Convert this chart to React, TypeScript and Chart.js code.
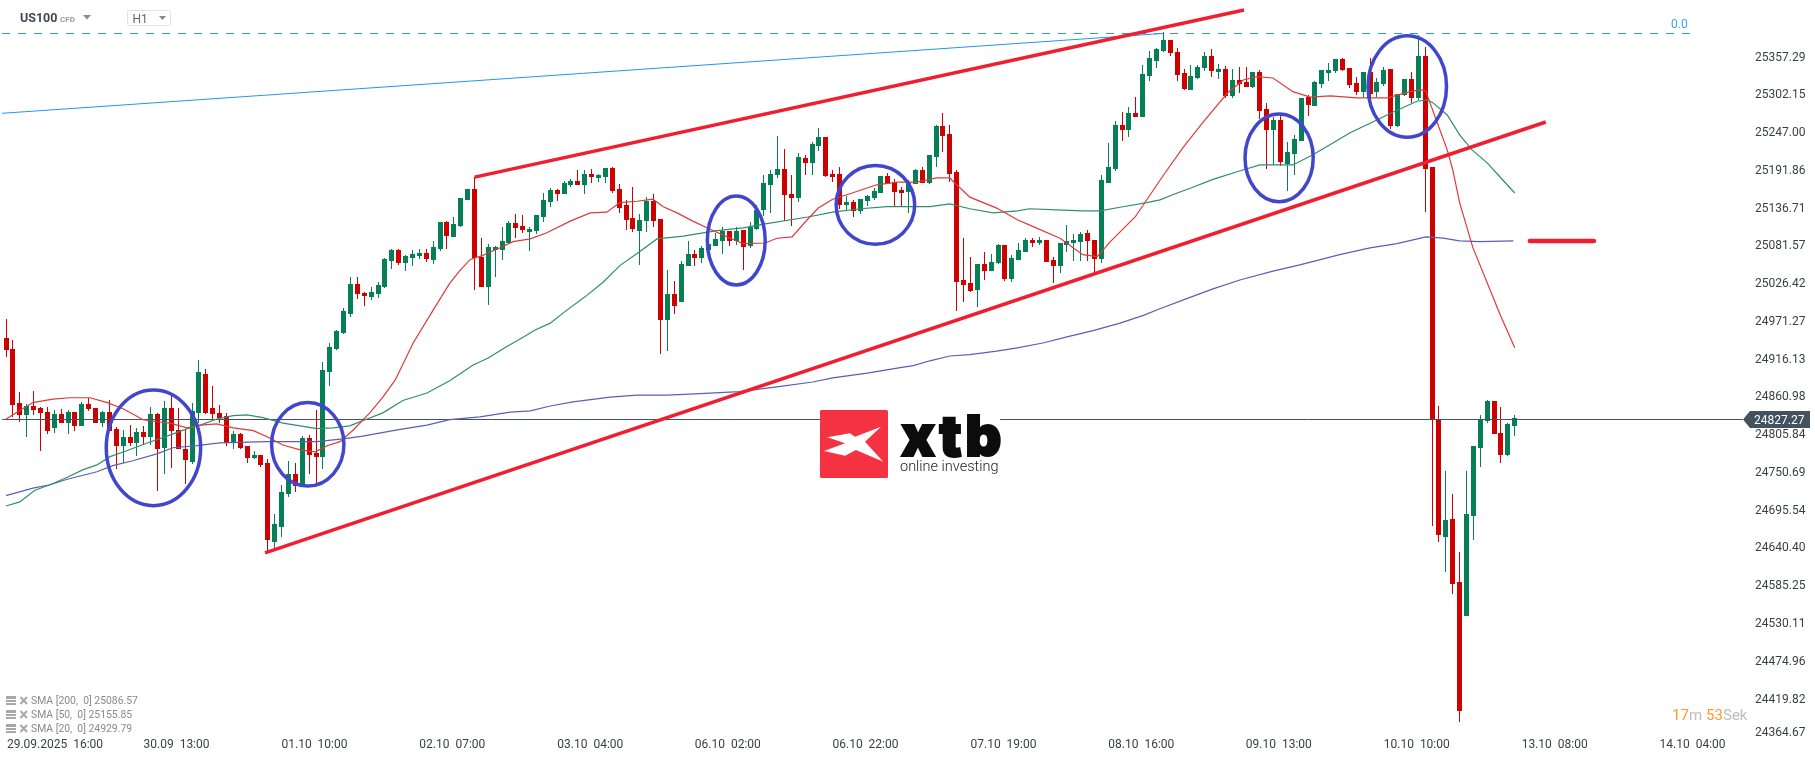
import React, { useEffect, useRef } from 'react';
import { Chart, registerables } from 'chart.js';

Chart.register(...registerables);

// US100 H1 candles, oldest first
const opens = [
  24947,24930,24852,24834,24847,24844,24838,24815,24836,24822,
  24838,24818,24850,24844,24822,24838,24814,24789,24802,24793,
  24809,24802,24836,24786,24844,24812,24784,24765,24837,24894,
  24844,24837,24833,24793,24806,24789,24771,24776,24764,24649,
  24671,24719,24748,24730,24800,24778,24773,24897,24930,24954,
  24982,25025,25012,25006,25011,25021,25059,25075,25056,25063,
  25066,25071,25060,25076,25116,25094,25110,25148,25164,25065,
  25021,25075,25075,25085,25114,25110,25101,25103,25123,25145,
  25162,25157,25170,25176,25170,25186,25180,25182,25195,25164,
  25141,25122,25103,25117,25146,25120,24973,25011,24999,25052,
  25069,25063,25075,25081,25088,25103,25088,25104,25081,25106,
  25133,25170,25184,25193,25157,25151,25209,25202,25227,25240,
  25186,25186,25141,25145,25132,25146,25151,25158,25183,25174,
  25162,25160,25171,25192,25173,25211,25256,25244,25189,25031,
  25027,25016,25054,25044,25056,25082,25033,25060,25072,25090,
  25085,25090,25060,25052,25082,25085,25087,25100,25090,25062,
  25173,25193,25257,25250,25275,25269,25329,25351,25366,25382,
  25364,25333,25309,25326,25341,25358,25335,25339,25300,25323,
  25320,25313,25335,25281,25250,25265,25200,25215,25234,25298,
  25285,25317,25333,25336,25354,25341,25319,25306,25335,25306,
  25317,25339,25256,25301,25325,25297,25358,25196,24828,24656,
  24682,24590,24541,24687,24786,24825,24855,24808,24776,24818,
];
const highs = [
  24974,24944,24868,24850,24869,24846,24846,24841,24843,24841,
  24838,24853,24858,24844,24840,24856,24817,24812,24819,24815,
  24818,24846,24837,24855,24861,24844,24812,24852,24914,24901,
  24876,24849,24837,24811,24808,24789,24782,24776,24770,24690,
  24732,24767,24764,24803,24805,24841,24911,24939,24958,24990,
  25035,25035,25014,25021,25028,25063,25076,25076,25068,25075,
  25076,25076,25088,25116,25117,25123,25151,25164,25181,25092,
  25084,25081,25109,25117,25128,25126,25109,25126,25158,25165,
  25164,25176,25179,25192,25192,25193,25186,25195,25196,25171,
  25148,25167,25128,25152,25157,25120,25045,25029,25059,25088,
  25075,25081,25090,25100,25109,25103,25109,25104,25116,25141,
  25184,25192,25241,25222,25184,25217,25214,25233,25253,25240,
  25192,25196,25154,25148,25149,25155,25165,25183,25187,25179,
  25167,25177,25193,25196,25214,25257,25275,25257,25192,25092,
  25065,25054,25072,25069,25084,25082,25068,25085,25092,25092,
  25094,25090,25065,25085,25111,25098,25101,25104,25090,25184,
  25231,25263,25276,25284,25298,25345,25366,25370,25393,25382,
  25370,25339,25345,25345,25364,25368,25347,25344,25339,25342,
  25342,25335,25338,25290,25269,25274,25233,25243,25297,25301,
  25322,25338,25348,25354,25355,25341,25328,25335,25355,25326,
  25342,25339,25303,25325,25335,25389,25371,25196,24847,24752,
  24719,24634,24752,24789,24834,24856,24855,24846,24822,24834,
];
const lows = [
  24919,24831,24824,24801,24834,24782,24806,24808,24822,24806,
  24811,24818,24840,24822,24817,24811,24755,24764,24788,24774,
  24790,24790,24723,24748,24757,24784,24733,24762,24822,24836,
  24827,24822,24788,24784,24784,24764,24770,24758,24633,24637,
  24655,24714,24722,24730,24748,24732,24755,24876,24929,24952,
  24977,25003,24993,25002,25005,25019,25047,25053,25044,25052,
  25062,25057,25054,25074,25076,25094,25109,25148,25016,25021,
  24995,25035,25060,25084,25092,25100,25074,25098,25116,25137,
  25146,25157,25167,25170,25157,25173,25174,25173,25158,25129,
  25104,25101,25053,25101,25109,24923,24927,24982,24999,25052,
  25052,25056,25075,25081,25069,25081,25082,25045,25078,25104,
  25125,25129,25180,25117,25110,25145,25184,25184,25220,25181,
  25174,25135,25132,25123,25128,25139,25148,25158,25171,25139,
  25137,25129,25171,25173,25171,25196,25218,25174,24986,24999,
  25014,24992,25031,25044,25054,25030,25028,25060,25072,25079,
  25082,25057,25027,25041,25072,25059,25059,25059,25041,25056,
  25173,25190,25234,25240,25269,25269,25322,25341,25364,25358,
  25322,25309,25309,25325,25336,25328,25325,25297,25297,25304,
  25313,25312,25266,25193,25199,25197,25161,25184,25234,25271,
  25285,25312,25322,25333,25336,25312,25301,25298,25295,25298,
  25314,25252,25255,25300,25290,25294,25130,24672,24649,24605,
  24573,24386,24541,24652,24758,24822,24806,24764,24774,24803,
];
const closes = [
  24929,24849,24834,24847,24841,24837,24811,24836,24822,24838,
  24818,24850,24843,24822,24838,24811,24789,24802,24793,24809,
  24802,24836,24784,24844,24811,24784,24768,24840,24897,24837,
  24836,24830,24793,24806,24786,24771,24776,24761,24652,24674,
  24722,24748,24730,24800,24776,24773,24900,24933,24957,24986,
  25025,25011,25008,25014,25024,25062,25075,25056,25066,25069,
  25071,25062,25079,25116,25095,25113,25151,25164,25063,25021,
  25079,25079,25088,25114,25107,25104,25106,25126,25148,25162,
  25157,25173,25176,25170,25186,25182,25184,25195,25161,25136,
  25119,25106,25119,25146,25117,24973,25011,24993,25054,25069,
  25063,25078,25084,25091,25103,25088,25103,25079,25109,25133,
  25173,25186,25193,25155,25151,25211,25202,25230,25240,25183,
  25181,25141,25145,25132,25149,25154,25161,25183,25171,25160,
  25158,25173,25192,25173,25214,25256,25241,25186,25028,25024,
  25015,25054,25044,25057,25082,25033,25063,25075,25090,25085,
  25090,25057,25052,25085,25088,25090,25098,25088,25062,25177,
  25196,25257,25250,25275,25269,25332,25355,25368,25382,25363,
  25330,25310,25329,25342,25358,25336,25339,25300,25323,25317,
  25313,25335,25278,25250,25265,25203,25218,25237,25297,25287,
  25320,25338,25338,25354,25338,25316,25306,25335,25303,25320,
  25338,25256,25303,25325,25297,25358,25193,24828,24658,24681,
  24587,24402,24690,24789,24828,24855,24806,24776,24821,24830,
];

// moving averages, read at the bends of each line
const sma20Idx = [0,1.6,3.9,6.8,9.3,12.2,14.7,17,19.9,21.9,23.8,26.3,28.2,30.6,33,35.9,37.9,40.2,42.7,44.9,46.6,48.5,50.4,52.8,54.7,56.5,59.1,62,64.4,65.9,67.4,69.2,71.7,73.6,76.1,78.5,81.9,84.8,87.2,89.1,91.6,93.9,95.4,97.4,99.7,101.8,104.7,107,110.2,111.9,114.1,116.3,117.9,120,122.5,126.4,129.3,132.2,135.1,137,138,139.9,143.8,146.8,149.1,153,156.3,158.4,160.3,163.9,168,170.9,173.8,177.3,179.6,181.6,183.9,186.8,189.3,192.2,196.1,200.5,203.8,205.3,206.1,206.4,207.7,209.2,210,211,212.9,216.9,219];
const sma20 = [24828,24838,24852,24857,24859,24859,24852,24843,24827,24824,24822,24815,24819,24821,24815,24811,24802,24790,24783,24780,24789,24795,24812,24837,24860,24885,24939,24987,25026,25045,25061,25067,25078,25087,25091,25100,25117,25129,25130,25144,25146,25149,25138,25129,25117,25107,25094,25084,25085,25092,25094,25119,25136,25149,25157,25170,25174,25174,25180,25180,25170,25152,25136,25119,25109,25092,25068,25065,25087,25123,25184,25225,25262,25304,25323,25328,25326,25306,25298,25300,25297,25297,25306,25309,25307,25298,25262,25221,25192,25144,25079,24980,24932];

const sma50Idx = [0,2,4.2,6.4,8.9,11.2,13.2,15.1,17.6,20.5,23.4,26.3,28.2,30.6,33,35,37.3,40.2,42.7,45.1,47.5,49.9,52.4,54.7,57.6,61.1,64.4,67.8,70,72.4,75,76.8,79,81.4,84,86.7,89.1,91.8,94.5,98.3,103.2,107,110.2,116.4,120,124,127.9,134.1,137,139.9,143.3,146.8,148.6,153.4,156.3,158.8,162.1,165.6,167.5,170,171.9,175.2,178.7,182,186.8,189.7,192.6,195.1,198,201.3,204.8,206.3,207.1,209.2,211,212.8,215,216.9,219];
const sma50 = [24701,24707,24724,24732,24743,24754,24761,24773,24782,24793,24803,24814,24819,24828,24833,24834,24830,24822,24818,24814,24815,24818,24828,24837,24855,24866,24884,24907,24917,24932,24947,24958,24968,24987,25006,25028,25052,25071,25091,25095,25103,25107,25113,25123,25130,25135,25138,25138,25142,25135,25129,25132,25135,25133,25132,25132,25138,25144,25148,25158,25165,25178,25189,25199,25199,25214,25231,25246,25260,25276,25292,25294,25290,25272,25243,25221,25202,25181,25158];

const sma200Idx = [0,3.9,6.4,8.9,13.2,15.5,18.4,21.9,24.2,27.7,31,37.9,45.1,48.9,51.8,56.8,61.1,64.4,68.8,73.2,76.1,79,82.3,87.7,91.6,96,100.7,106.5,111.9,117.1,120,125,129.8,131.7,134.1,137,139.9,143.8,146.8,150.5,154,157.8,161.7,165,167.5,170.9,175.2,179.1,183.9,187.8,193.6,198,201.9,206.1,208.6,211,213.9,218.8];
const sma200 = [24716,24727,24732,24740,24751,24760,24767,24777,24786,24789,24793,24795,24795,24799,24803,24812,24819,24827,24831,24838,24840,24847,24853,24860,24863,24863,24865,24868,24875,24882,24888,24895,24903,24906,24913,24920,24922,24927,24932,24939,24948,24957,24968,24979,24989,25002,25018,25031,25044,25053,25068,25078,25084,25094,25092,25088,25087,25088];

// hand drawn analysis: [index, price] at both ends
const upperTrend = [[68.03, 25181.2], [179.7, 25425.3]];
const lowerTrend = [[37.6, 24632.4], [223.5, 25261.7]];
const targetDash = [[221.2, 25088], [230.5, 25088]];
const fibTrend = [[-0.58, 25274.4], [167.95, 25391]];
const fibLevel = [[-0.58, 25390.95], [244.4, 25390.95]];
const priceLine = [[-0.58, 24827.27], [252.1, 24827.27]];
// circles: centre index, centre price, radius in candles, radius in points
const circles = [
  [21.4, 24786, 6.85, 84.5],
  [43.8, 24791, 5.25, 61],
  [106.0, 25088.6, 4.2, 65],
  [126.2, 25140.7, 5.7, 57.5],
  [184.8, 25209.4, 4.95, 64],
  [203.4, 25313.5, 5.7, 74],
];

const xTickPos = [7.11,24.75,44.78,64.78,84.81,104.77,124.76,144.79,164.8,184.75,204.78,224.8,244.81];
const xTickLabels = ['29.09.2025  16:00','30.09  13:00','01.10  10:00','02.10  07:00','03.10  04:00','06.10  02:00','06.10  22:00','07.10  19:00','08.10  16:00','09.10  13:00','10.10  10:00','13.10  08:00','14.10  04:00'];
const yTicks = [25357.29,25302.15,25247.0,25191.86,25136.71,25081.57,25026.42,24971.27,24916.13,24860.98,24805.84,24750.69,24695.54,24640.4,24585.25,24530.11,24474.96,24419.82,24364.67];
const yFloorLabel = 24371.6; // last label is pushed up, it would run into the time axis
const smaLegend = ['SMA [200,  0] 25086.57', 'SMA [50,  0] 25155.85', 'SMA [20,  0] 24929.79'];

const UP = '#057f56';
const DOWN = '#cf0000';
const TREND = '#f01f30';
const CIRCLE = '#4146cc';
const FIB = '#2196f3';
const DARK = '#43525f';

const pairs = (p: number[][]) => p.map(([x, y]) => ({ x, y }));
const line = (data: number[][], color: string, width: number, order: number, extra = {}) => ({
  type: 'line' as const,
  data: pairs(data),
  borderColor: color,
  borderWidth: width,
  pointRadius: 0,
  tension: 0,
  order,
  ...extra,
});
const zip = (xs: number[], ys: number[]) => xs.map((x, i) => [x, ys[i]]);

// the platform snaps candles to whole pixels
const snapCandles = {
  id: 'snapCandles',
  afterDatasetsUpdate(chart: any) {
    chart.data.datasets.forEach((ds: any, i: number) => {
      if (ds.type !== 'bar') return;
      chart.getDatasetMeta(i).data.forEach((el: any) => {
        const top = Math.round(Math.min(el.y, el.base));
        const bottom = Math.round(Math.max(el.y, el.base));
        el.x = Math.floor(el.x) + 0.5;
        el.y = top;
        el.base = Math.max(bottom, top + 1);
      });
    });
  },
};

const circlesPlugin = {
  id: 'circles',
  afterDatasetsDraw(chart: any) {
    const { ctx, scales: { x, y } } = chart;
    ctx.save();
    ctx.strokeStyle = CIRCLE;
    ctx.lineWidth = 3.5;
    circles.forEach(([cx, cy, rx, ry]) => {
      const px = x.getPixelForValue(cx);
      const py = y.getPixelForValue(cy);
      const w = x.getPixelForValue(cx + rx) - px;
      const h = py - y.getPixelForValue(cy + ry);
      ctx.beginPath();
      ctx.ellipse(px, py, w, h, 0, 0, Math.PI * 2);
      ctx.stroke();
    });
    ctx.restore();
  },
};

function label(ctx: any, s: string, x: number, y: number, font: string, color: string, align = 'left') {
  ctx.font = font;
  ctx.fillStyle = color;
  ctx.textAlign = align;
  ctx.textBaseline = 'middle';
  ctx.fillText(s, x, y);
}

function triangle(ctx: any, x1: number, x2: number, y1: number, y2: number, color: string) {
  ctx.fillStyle = color;
  ctx.beginPath();
  ctx.moveTo(x1, y1);
  ctx.lineTo(x2, y1);
  ctx.lineTo((x1 + x2) / 2, y2);
  ctx.closePath();
  ctx.fill();
}

const overlay = {
  id: 'overlay',
  afterDraw(chart: any) {
    const { ctx } = chart;
    ctx.save();

    // header
    label(ctx, 'US100', 20, 19, 'bold 12.5px Roboto', '#3d4a55');
    label(ctx, 'CFD', 60, 19.5, 'bold 8px Roboto', '#9a9a9a');
    triangle(ctx, 83, 91, 15, 19.5, '#8a8a8a');
    ctx.strokeStyle = '#e2e2e2';
    ctx.lineWidth = 1;
    ctx.beginPath();
    ctx.roundRect(127.5, 10.5, 43, 15, 2);
    ctx.stroke();
    label(ctx, 'H1', 132.5, 19.5, '12px Roboto', '#666666');
    triangle(ctx, 159, 166, 16, 20, '#8a8a8a');

    // fib level
    label(ctx, '0.0', 1671, 24.5, '12px Roboto', '#3ea0f5');

    // logo
    ctx.fillStyle = '#ffffff';
    ctx.fillRect(820, 405, 180, 77);
    ctx.fillStyle = '#f53241';
    ctx.beginPath();
    ctx.roundRect(820, 410, 68, 68, 1.5);
    ctx.fill();
    ctx.fillStyle = '#ffffff';
    ctx.beginPath();
    ctx.moveTo(827.3, 437.3);
    ctx.lineTo(850, 433.3);
    ctx.lineTo(855, 436.7);
    ctx.lineTo(881, 426.7);
    ctx.lineTo(865, 441.7);
    ctx.lineTo(883.3, 461.7);
    ctx.lineTo(856, 450);
    ctx.lineTo(845, 455.7);
    ctx.lineTo(824, 451);
    ctx.lineTo(845, 443.3);
    ctx.closePath();
    ctx.fill();
    ctx.letterSpacing = '3.5px';
    ctx.textAlign = 'left';
    ctx.textBaseline = 'alphabetic';
    ctx.font = '900 56px Inter';
    ctx.fillStyle = '#0c0c0c';
    ctx.strokeStyle = '#0c0c0c';
    ctx.lineWidth = 2;
    ctx.fillText('xtb', 901, 455.5);
    ctx.strokeText('xtb', 901, 455.5);
    ctx.letterSpacing = '0px';
    ctx.font = '300 14.5px Roboto';
    ctx.fillStyle = '#222222';
    ctx.fillText('online investing', 900, 471);

    // indicator legend
    smaLegend.forEach((s, i) => {
      const y = 701 + i * 14;
      ctx.fillStyle = '#a8a8a8';
      ctx.fillRect(6, y - 5, 10, 3);
      ctx.fillRect(6, y - 1, 10, 2);
      ctx.fillRect(6, y + 2, 10, 2);
      ctx.strokeStyle = '#a8a8a8';
      ctx.lineWidth = 2;
      ctx.beginPath();
      ctx.moveTo(20.5, y - 4);
      ctx.lineTo(27, y + 3);
      ctx.moveTo(27, y - 4);
      ctx.lineTo(20.5, y + 3);
      ctx.stroke();
      label(ctx, s, 31, y + 0.5, '10.4px Roboto', '#8a8a8a');
    });

    // candle timer
    const orange = '#ff9a1f';
    const grey = '#bdbdbd';
    label(ctx, '17', 1672, 716, '15px Roboto', orange);
    label(ctx, 'm', 1689, 716, '15px Roboto', grey);
    label(ctx, '53', 1706, 716, '15px Roboto', orange);
    label(ctx, 'Sek', 1723, 716, '15px Roboto', grey);

    // current price flag
    ctx.fillStyle = DARK;
    ctx.beginPath();
    ctx.moveTo(1743, 419.5);
    ctx.lineTo(1750, 411);
    ctx.lineTo(1810, 411);
    ctx.lineTo(1810, 428);
    ctx.lineTo(1750, 428);
    ctx.closePath();
    ctx.fill();
    label(ctx, '24827.27', 1754, 420.5, '12px Roboto', '#ffffff');

    ctx.restore();
  },
};

export default function App() {
  const canvasRef = useRef<HTMLCanvasElement>(null);

  useEffect(() => {
    Chart.defaults.font.family = 'Roboto';
    const colors = opens.map((o, i) => (closes[i] >= o ? UP : DOWN));
    const chart = new Chart(canvasRef.current!, {
      type: 'bar',
      data: {
        datasets: [
          {
            type: 'bar',
            data: lows.map((l, i) => ({ x: i, y: [l, highs[i]] })),
            backgroundColor: colors,
            barThickness: 1,
            grouped: false,
            inflateAmount: 0,
            order: 10,
          },
          {
            type: 'bar',
            data: opens.map((o, i) => ({ x: i, y: [o, closes[i]] })),
            backgroundColor: colors,
            barThickness: 5,
            grouped: false,
            inflateAmount: 0,
            order: 9,
          },
          line(priceLine, DARK, 1, 8),
          line(fibLevel, FIB, 1, 7, { borderDash: [8, 8] }),
          line(fibTrend, FIB, 1, 6),
          line(zip(sma200Idx, sma200), '#5a5fb5', 1.2, 5),
          line(zip(sma50Idx, sma50), '#2f8f6a', 1.2, 4),
          line(zip(sma20Idx, sma20), '#dd3a3a', 1.2, 3),
          line(upperTrend, TREND, 3.5, 2),
          line(lowerTrend, TREND, 3.5, 2),
          line(targetDash, TREND, 4.5, 1, { borderCapStyle: 'round' }),
        ] as any,
      },
      options: {
        responsive: false,
        animation: false,
        devicePixelRatio: 1,
        events: [],
        layout: { padding: 0 },
        plugins: { legend: { display: false }, tooltip: { enabled: false } },
        scales: {
          x: {
            type: 'linear',
            min: -0.874,
            max: 253.15,
            offset: false,
            grid: { display: false, drawTicks: false },
            border: { display: false },
            afterBuildTicks: (s: any) => {
              s.ticks = xTickPos.map((value) => ({ value }));
            },
            afterFit: (s: any) => {
              s.height = 26;
              s.paddingLeft = 0;
              s.paddingRight = 0;
            },
            ticks: {
              autoSkip: false,
              maxRotation: 0,
              padding: 3,
              color: '#3a3f44',
              font: { size: 12 },
              callback: (_v: any, i: number) => xTickLabels[i],
            },
          },
          y: {
            type: 'linear',
            position: 'right',
            min: 24366.55,
            max: 25439.87,
            grid: { display: false, drawTicks: false },
            border: { display: false },
            afterBuildTicks: (s: any) => {
              s.ticks = yTicks.map((v) => ({ value: Math.max(v, yFloorLabel) }));
            },
            afterFit: (s: any) => {
              s.width = 65;
              s.paddingTop = 0;
              s.paddingBottom = 0;
            },
            ticks: {
              autoSkip: false,
              padding: 5,
              labelOffset: 1,
              color: '#3a3f44',
              font: { size: 12 },
              callback: (_v: any, i: number) => yTicks[i].toFixed(2),
            },
          },
        } as any,
      },
      plugins: [snapCandles, circlesPlugin, overlay],
    } as any);

    return () => {
      chart.destroy();
    };
  }, []);

  return (
    <div style={{ position: 'absolute', left: 0, top: 0, width: 1815, height: 761, background: '#fff' }}>
      <canvas ref={canvasRef} width={1815} height={761} style={{ display: 'block' }} />
    </div>
  );
}
